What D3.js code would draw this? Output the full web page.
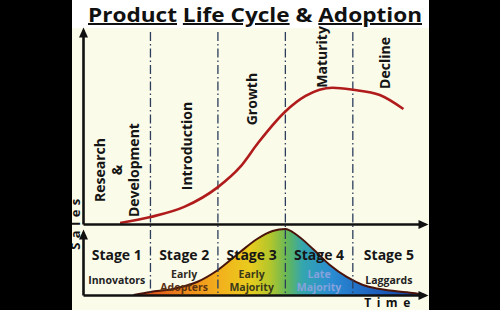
<!DOCTYPE html>
<html>
<head>
<meta charset="utf-8">
<script src="https://cdnjs.cloudflare.com/ajax/libs/d3/7.8.5/d3.min.js"></script>
<style>
body { margin: 0; background: #000; }
text { font-family: "Open Sans", "Noto Sans", sans-serif; font-weight: 700; }
</style>
</head>
<body>
<script>
// chart data
var stageBounds = [1, 2, 3, 4];
var phaseNames = [["Research", "&", "Development"], ["Introduction"], ["Growth"], ["Maturity"], ["Decline"]];
var stageNames = ["Stage 1", "Stage 2", "Stage 3", "Stage 4", "Stage 5"];
var adopterNames = [["Innovators"], ["Early", "Adopters"], ["Early", "Majority"], ["Late", "Majority"], ["Laggards"]];
var salesTime = [0.55, 1.0, 1.5, 2.0, 2.33, 2.6, 3.0, 3.3, 3.7, 4.0, 4.4, 4.75];
var salesValues = [0.5, 3.6, 8.8, 19, 29.4, 42, 58, 66, 70.2, 69.2, 66.5, 59.3];
var adoptTime = [0.75, 1.0, 1.33, 1.69, 2.0, 2.33, 2.58, 2.81, 3.0, 3.17, 3.41, 3.66, 3.91, 4.15, 4.4, 4.89, 5.07];
var adoptValues = [0, 4.8, 9.5, 20.6, 39.7, 68.3, 88.9, 101.6, 104.8, 95.2, 73, 47.6, 28.6, 15.9, 9.5, 3.2, 0];

// layout
var phasePos = [[0.5, 27.8], [1.54, 40.2], [2.5, 64.4], [3.54, 86.1], [4.47, 83]];
var adopterColors = [["#222"], ["#2e2a20", "#5a3212"], ["#3a3a1a", "#3a3a1a"], ["#86a2dc", "#86a2dc"], ["#222"]];

var svg = d3.select("body").append("svg")
    .attr("width", 500)
    .attr("height", 310);

var x = d3.scaleLinear().domain([0, 5.07]).range([83, 425]);
var ySales = d3.scaleLinear().domain([0, 100]).range([224, 30]);
var yAdopt = d3.scaleLinear().domain([0, 100]).range([295, 232]);

svg.append("rect").attr("x", 0).attr("y", 0).attr("width", 500).attr("height", 310).attr("fill", "#fbfbea");
svg.append("rect").attr("x", 0).attr("y", 0).attr("width", 500).attr("height", 28).attr("fill", "#ffffff");

var defs = svg.append("defs");
defs.append("marker")
    .attr("id", "arrow")
    .attr("viewBox", "0 -5 10 10")
    .attr("refX", 7)
    .attr("refY", 0)
    .attr("markerUnits", "userSpaceOnUse")
    .attr("markerWidth", 11)
    .attr("markerHeight", 10)
    .attr("orient", "auto")
  .append("path")
    .attr("d", "M0,-4.5L10,0L0,4.5Z")
    .attr("fill", "#111");

var grad = defs.append("linearGradient")
    .attr("id", "adopt-grad")
    .attr("gradientUnits", "userSpaceOnUse")
    .attr("x1", x(0.75)).attr("x2", x(5.07))
    .attr("y1", 0).attr("y2", 0);
var gradStops = [[0, "#d8401a"], [0.18, "#ee8a1c"], [0.3, "#f2b21c"], [0.4, "#e8cc1e"], [0.47, "#b2c62c"],
    [0.53, "#62b65c"], [0.58, "#34a6ae"], [0.68, "#2a8cd2"], [0.82, "#1e62c0"], [1, "#1440a0"]];
grad.selectAll("stop").data(gradStops).enter().append("stop")
    .attr("offset", function(d) { return d[0]; })
    .attr("stop-color", function(d) { return d[1]; });

// title
var title = svg.append("text")
    .attr("x", 88)
    .attr("y", 22)
    .attr("font-size", 20)
    .attr("fill", "#111")
    .attr("textLength", 334)
    .attr("lengthAdjust", "spacingAndGlyphs");
title.append("tspan").attr("text-decoration", "underline").text("Product");
title.append("tspan").text(" ");
title.append("tspan").attr("text-decoration", "underline").text("Life Cycle");
title.append("tspan").text(" & ");
title.append("tspan").attr("text-decoration", "underline").text("Adoption");

// adoption bell
var adoptData = d3.zip(adoptTime, adoptValues);
svg.append("path")
    .datum(adoptData)
    .attr("fill", "url(#adopt-grad)")
    .attr("d", d3.area()
        .x(function(d) { return x(d[0]); })
        .y0(yAdopt(0))
        .y1(function(d) { return yAdopt(d[1]); })
        .curve(d3.curveMonotoneX));
svg.append("path")
    .datum(adoptData)
    .attr("fill", "none")
    .attr("stroke", "#4a140a")
    .attr("stroke-width", 2)
    .attr("d", d3.line()
        .x(function(d) { return x(d[0]); })
        .y(function(d) { return yAdopt(d[1]); })
        .curve(d3.curveMonotoneX));

// stage dividers
svg.selectAll(".divider").data(stageBounds).enter().append("line")
    .attr("class", "divider")
    .attr("x1", function(d) { return x(d); })
    .attr("x2", function(d) { return x(d); })
    .attr("y1", ySales(100) + 2)
    .attr("y2", yAdopt(0))
    .attr("stroke", "#2c3e5c")
    .attr("stroke-width", 1.3)
    .attr("stroke-dasharray", "9,3,1.5,3");

// sales curve
svg.append("path")
    .datum(d3.zip(salesTime, salesValues))
    .attr("fill", "none")
    .attr("stroke", "#b01c1c")
    .attr("stroke-width", 2.6)
    .attr("d", d3.line()
        .x(function(d) { return x(d[0]); })
        .y(function(d) { return ySales(d[1]); })
        .curve(d3.curveMonotoneX));

// axes
var styleAxis = function(sel) {
    sel.select(".domain")
        .attr("stroke", "#111")
        .attr("stroke-width", 2.6)
        .attr("marker-end", "url(#arrow)");
};
svg.append("g").attr("transform", "translate(0," + ySales(0) + ")")
    .call(d3.axisBottom(x).tickValues([]).tickSizeOuter(0)).call(styleAxis);
svg.append("g").attr("transform", "translate(" + x(0) + ",0)")
    .call(d3.axisLeft(ySales).tickValues([]).tickSizeOuter(0)).call(styleAxis);
svg.append("g").attr("transform", "translate(0," + yAdopt(0) + ")")
    .call(d3.axisBottom(x).tickValues([]).tickSizeOuter(0)).call(styleAxis);
svg.append("g").attr("transform", "translate(" + x(0) + ",0)")
    .call(d3.axisLeft(yAdopt).tickValues([]).tickSizeOuter(0)).call(styleAxis);

// phase labels (rotated)
phaseNames.forEach(function(lines, i) {
    var t = svg.append("text")
        .attr("transform", "translate(" + x(phasePos[i][0]) + "," + ySales(phasePos[i][1]) + ") rotate(-90)")
        .attr("text-anchor", "middle")
        .attr("font-size", 14)
        .attr("fill", "#151515");
    lines.forEach(function(line, j) {
        var off = (j - (lines.length - 1) / 2) * 17 + 5;
        t.append("tspan")
            .attr("x", 0)
            .attr("y", off)
            .text(line);
    });
});

// stage labels
var stageEdges = [0].concat(stageBounds).concat([x.domain()[1]]);
var stageCenter = function(i) { return x((stageEdges[i] + stageEdges[i + 1]) / 2); };
svg.selectAll(".stage").data(stageNames).enter().append("text")
    .attr("class", "stage")
    .attr("x", function(d, i) { return stageCenter(i); })
    .attr("y", 260)
    .attr("text-anchor", "middle")
    .attr("font-size", 14)
    .attr("fill", "#161616")
    .text(function(d) { return d; });

adopterNames.forEach(function(lines, i) {
    lines.forEach(function(line, j) {
        svg.append("text")
            .attr("x", stageCenter(i))
            .attr("y", lines.length == 1 ? 284 : 278 + j * 13)
            .attr("text-anchor", "middle")
            .attr("font-size", 10.5)
            .attr("fill", adopterColors[i][j])
            .text(line);
    });
});

// axis titles
svg.append("text")
    .attr("transform", "translate(80,222) rotate(-90)")
    .attr("text-anchor", "middle")
    .attr("font-size", 13)
    .attr("letter-spacing", 4.5)
    .attr("fill", "#111")
    .text("Sales");
svg.append("text")
    .attr("x", 390)
    .attr("y", 307)
    .attr("text-anchor", "middle")
    .attr("font-size", 12)
    .attr("letter-spacing", 5.5)
    .attr("fill", "#111")
    .text("Time");

// black side bands of the original image
svg.append("rect").attr("x", 0).attr("y", 0).attr("width", 72).attr("height", 310).attr("fill", "#000");
svg.append("rect").attr("x", 429).attr("y", 0).attr("width", 71).attr("height", 310).attr("fill", "#000");
</script>
</body>
</html>
